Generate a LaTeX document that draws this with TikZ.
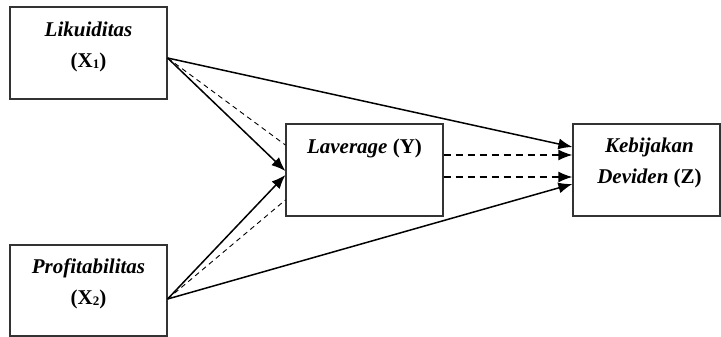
\documentclass[tikz,border=0pt]{standalone}
\usepackage{fontspec}
\setmainfont{Liberation Serif}
\usetikzlibrary{arrows.meta}
\newcommand{\subd}[1]{\raisebox{-1pt}{\fontsize{13}{13}\selectfont #1}}
\begin{document}
\begin{tikzpicture}[x=1pt,y=-1pt,
  box/.style={draw=black!80,line width=1.2pt,minimum width=157pt,inner sep=0pt},
  lbl/.style={font=\fontsize{21}{31}\selectfont\bfseries,align=center,inner sep=0pt},
  solidarr/.style={line width=1.5pt,-{Latex[length=14pt,width=11pt]}},
  thindash/.style={line width=0.9pt,dash pattern=on 5pt off 4pt},
  dasharr/.style={line width=1.5pt,dash pattern=on 7pt off 5pt,-{Latex[length=14pt,width=11pt]}}]
\useasboundingbox (0,0) rectangle (721,337);
% boxes
\node[box,minimum height=92pt] (x1) at (88.5,53) {};
\node[box,minimum height=91pt] (x2) at (88.5,290.5) {};
\node[box,minimum height=92pt] (y) at (364.5,170) {};
\node[box,minimum width=147pt,minimum height=92pt] (z) at (646.5,170) {};
% labels
\node[lbl] (tx1) at (88.5,47) {\textit{Likuiditas}\\(X\subd{1})};
\node[lbl] (tx2) at (88.5,284) {\textit{Profitabilitas}\\(X\subd{2})};
\node[lbl] (ty) at (364.5,148) {\textit{Laverage} (Y)};
\node[lbl] (tz) at (649.5,163) {\textit{Kebijakan}\\\textit{Deviden} (Z)};
% connectors
\draw[solidarr] ([yshift=-5pt]x1.east) -- ([yshift=23pt]z.west);
\draw[solidarr] ([yshift=-5pt]x1.east) -- ([yshift=-1pt]y.west);
\draw[thindash] ([yshift=-5pt]x1.east) -- ([yshift=25pt]y.west);
\draw[solidarr] ([yshift=-8.5pt]x2.east) -- ([yshift=-5pt]y.west);
\draw[thindash] ([yshift=-8.5pt]x2.east) -- ([yshift=-30pt]y.west);
\draw[solidarr] ([yshift=-8.5pt]x2.east) -- ([yshift=-14pt]z.west);
\draw[dasharr] ([yshift=15pt]y.east) -- ([yshift=15pt]z.west);
\draw[dasharr] ([yshift=-7pt]y.east) -- ([yshift=-7pt]z.west);
\end{tikzpicture}
\end{document}
